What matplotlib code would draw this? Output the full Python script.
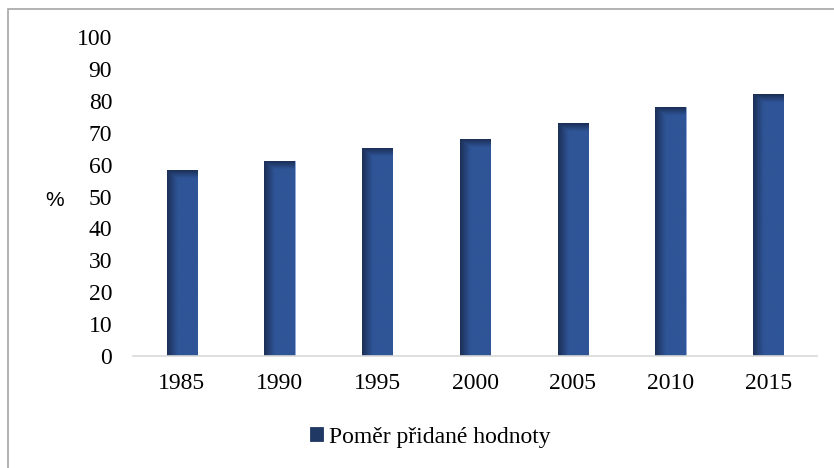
import numpy as np
import matplotlib
matplotlib.use("Agg")
import matplotlib.pyplot as plt
from matplotlib.patches import Rectangle
from matplotlib.colors import to_rgb

years = ["1985", "1990", "1995", "2000", "2005", "2010", "2015"]
ratio = [58, 61, 65, 68, 73, 78, 82]
series_name = "Poměr přidané hodnoty"

plt.rcParams['font.family'] = ['Liberation Serif', 'DejaVu Serif']

fig = plt.figure(figsize=(8.34, 4.68), dpi=100)
ax = fig.add_axes([0.1595, 0.2393, 0.8201, 0.6816])

x = np.arange(len(years))
bars = ax.bar(x, ratio, width=0.31, color="#2F5597", edgecolor="#8FAADC",
              linewidth=0.6, label=series_name, zorder=2)

# shading on each bar: darker left edge and top
dark = np.array(to_rgb("#1C2F57"))
base = np.array(to_rgb("#2F5597"))
nx, ny = 60, 300
hx = np.clip(1 - np.linspace(0, 1, nx) / 0.35, 0, 1)
for b in bars:
    x0, w, h = b.get_x(), b.get_width(), b.get_height()
    top_px = 8 / 319 * 100  # about 8 px dark band at top
    yy = np.linspace(h, 0, ny)
    hy = np.clip(1 - (h - yy) / top_px, 0, 1)
    t = np.maximum(hx[None, :], hy[:, None])
    img = base[None, None, :] * (1 - t[..., None]) + dark[None, None, :] * t[..., None]
    ax.imshow(img, extent=[x0, x0 + w, 0, h], aspect="auto", zorder=3,
              interpolation="bilinear")

ax.set_xlim(-0.5, len(years) - 0.5)
ax.set_ylim(0, 100)
ax.set_yticks(range(0, 101, 10))
ax.set_xticks(x)
ax.set_xticklabels(years)
ax.tick_params(length=0, labelsize=17, colors="black")
ax.tick_params(axis="x", pad=12)
ax.tick_params(axis="y", pad=15)
for s in ["top", "right", "left"]:
    ax.spines[s].set_visible(False)
ax.spines["bottom"].set_color("#D9D9D9")
ax.spines["bottom"].set_linewidth(1.2)
ax.spines["bottom"].set_zorder(4)

fig.text(55 / 834, 1 - 200 / 468, "%", fontsize=15, family="Liberation Sans",
         ha="center", va="center")

leg = fig.legend(handles=[bars], labels=[series_name], loc="center",
                 bbox_to_anchor=(430 / 834, 1 - 437 / 468), frameon=False,
                 fontsize=17, handlelength=0.55, handleheight=0.55, handletextpad=0.25)
for p in leg.get_patches():
    p.set_facecolor("#203864")
    p.set_edgecolor("#203864")

# chart border (only left and top visible in the crop)
fig.patches.append(Rectangle((8 / 834, -0.5), 2, 0.5 + 1 - 9 / 468,
                             transform=fig.transFigure, fill=False,
                             edgecolor="#A6A6A6", linewidth=1.2))

fig.savefig("out.png", dpi=100)
